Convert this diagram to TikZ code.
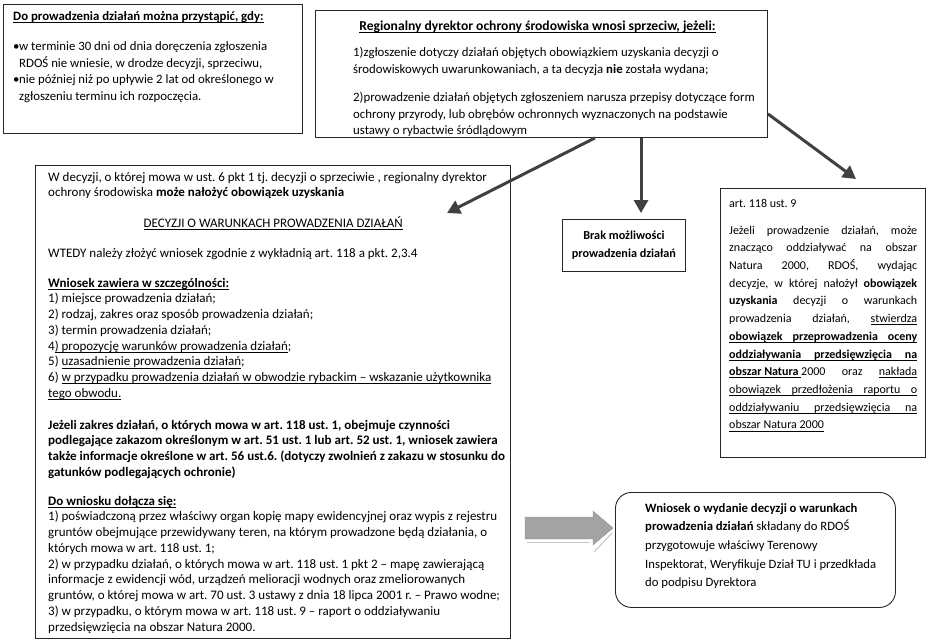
\documentclass[tikz,border=0pt]{standalone}
\usepackage{fontspec}
\setmainfont{Carlito}
\usetikzlibrary{arrows.meta,calc,positioning}
\newsavebox{\undlbox}
\newcommand{\undl}[1]{\sbox{\undlbox}{#1}\rlap{\rule[-2.4pt]{\wd\undlbox}{0.7pt}}\usebox{\undlbox}}

\begin{document}
\frenchspacing
\begin{tikzpicture}[x=1pt,y=-1pt,>={Triangle[length=13pt,width=14pt]},
    box/.style={draw=black!85, line width=0.9pt, anchor=north west, inner sep=0pt},
    txt/.style={anchor=north west, inner sep=0pt, align=left},
    link/.style={->, line width=3pt, draw=black!75}]
    \useasboundingbox (0,0) rectangle (931,643);

    % Frames
    \node[box, minimum width=299pt, minimum height=129pt] (start) at (3,4) {};
    \node[box, minimum width=452pt, minimum height=127pt] (reg) at (315,10) {};
    \node[box, minimum width=475pt, minimum height=473pt] (dec) at (35,165) {};
    \node[box, minimum width=123pt, minimum height=52pt] (brak) at (562,219) {};
    \node[box, minimum width=205pt, minimum height=269pt] (n2k) at (720,188) {};
    \node[box, rounded corners=16pt, minimum width=280pt, minimum height=115pt] (wn) at (615,492) {};

    % Top left
    \node[txt, font=\fontsize{12.8}{16.9}\selectfont] (starttxt) at ($(start.north west)+(10,7)$)
        {\textbf{\undl{Do prowadzenia działań można przystąpić, gdy:}}\\[13pt]
         \makebox[6pt][l]{•}w terminie 30 dni od dnia doręczenia zgłoszenia\\
         \hspace*{6pt}RDOŚ nie wniesie, w drodze decyzji, sprzeciwu,\\
         \makebox[6pt][l]{•}nie później niż po upływie 2 lat od określonego w\\
         \hspace*{6pt}zgłoszeniu terminu ich rozpoczęcia.};

    % Top centre
    \node[txt, font=\fontsize{13.6}{16.5}\selectfont] (regtitle) at ($(reg.north)+(-4,11)$)
        [anchor=north] {\textbf{\undl{Regionalny dyrektor ochrony środowiska wnosi sprzeciw, jeżeli:}}};
    \node[txt, font=\fontsize{12.8}{16.5}\selectfont] (regtxt) at ($(reg.north west)+(38,37)$)
        {1)zgłoszenie dotyczy działań objętych obowiązkiem uzyskania decyzji o\\
         środowiskowych uwarunkowaniach, a ta decyzja \textbf{nie} została wydana;\\[12pt]
         2)prowadzenie działań objętych zgłoszeniem narusza przepisy dotyczące form\\
         ochrony przyrody, lub obrębów ochronnych wyznaczonych na podstawie\\
         ustawy o rybactwie śródlądowym};

    % Left
    \node[txt, font=\fontsize{13}{15.75}\selectfont] (dectxt) at ($(dec.north west)+(13,7)$)
        {W decyzji, o której mowa w ust. 6 pkt 1 tj. decyzji o sprzeciwie , regionalny dyrektor\\
         ochrony środowiska \textbf{może nałożyć obowiązek uzyskania}\\[15pt]
         \makebox[450pt]{\undl{DECYZJI O WARUNKACH PROWADZENIA DZIAŁAŃ}}\\[14pt]
         WTEDY należy złożyć wniosek zgodnie z wykładnią art. 118 a pkt. 2,3.4\\[14pt]
         \textbf{\undl{Wniosek zawiera w szczególności:}}\\
         1) miejsce prowadzenia działań;\\
         2) rodzaj, zakres oraz sposób prowadzenia działań;\\
         3) termin prowadzenia działań;\\
         4\undl{) propozycję warunków prowadzenia działań};\\
         5) \undl{uzasadnienie prowadzenia działań};\\
         6) \undl{w przypadku prowadzenia działań w obwodzie rybackim – wskazanie użytkownika}\\
         \undl{tego obwodu.}\\[16pt]
         \textbf{Jeżeli zakres działań, o których mowa w art. 118 ust. 1, obejmuje czynności}\\
         \textbf{podlegające zakazom określonym w art. 51 ust. 1 lub art. 52 ust. 1, wniosek zawiera}\\
         \textbf{także informacje określone w art. 56 ust.6. (dotyczy zwolnień z zakazu w stosunku do}\\
         \textbf{gatunków podlegających ochronie)}\\[13pt]
         \textbf{\undl{Do wniosku dołącza się:}}\\
         1) poświadczoną przez właściwy organ kopię mapy ewidencyjnej oraz wypis z rejestru\\
         gruntów obejmujące przewidywany teren, na którym prowadzone będą działania, o\\
         których mowa w art. 118 ust. 1;\\
         2) w przypadku działań, o których mowa w art. 118 ust. 1 pkt 2 – mapę zawierającą\\
         informacje z ewidencji wód, urządzeń melioracji wodnych oraz zmeliorowanych\\
         gruntów, o której mowa w art. 70 ust. 3 ustawy z dnia 18 lipca 2001 r. – Prawo wodne;\\
         3) w przypadku, o którym mowa w art. 118 ust. 9 – raport o oddziaływaniu\\
         przedsięwzięcia na obszar Natura 2000.};

    % Middle
    \node[align=center, inner sep=0pt, font=\fontsize{12.2}{18}\selectfont\bfseries] (braktxt) at (brak.center)
        {Brak możliwości\\prowadzenia działań};

    % Right
    \node[txt, font=\fontsize{12}{17.7}\selectfont] (n2ktxt) at ($(n2k.north west)+(9,11)$)
        {art. 118 ust. 9\\[9pt]
         \makebox[188pt][s]{Jeżeli prowadzenie działań, może}\\
         \makebox[188pt][s]{znacząco oddziaływać na obszar}\\
         \makebox[188pt][s]{Natura 2000, RDOŚ, wydając}\\
         \makebox[188pt][s]{decyzje, w której nałożył \textbf{obowiązek}}\\
         \makebox[188pt][s]{\textbf{uzyskania} decyzji o warunkach}\\
         \makebox[188pt][s]{prowadzenia działań, \undl{stwierdza}}\\
         \undl{\makebox[188pt][s]{\bfseries obowiązek przeprowadzenia oceny}}\\
         \undl{\makebox[188pt][s]{\bfseries oddziaływania przedsięwzięcia na}}\\
         \hbox to 188pt{\undl{\textbf{obszar\ Natura\ }}2000\hfill oraz\hfill\undl{nakłada}}\\
         \undl{\makebox[188pt][s]{obowiązek przedłożenia raportu o}}\\
         \undl{\makebox[188pt][s]{oddziaływaniu przedsięwzięcia na}}\\
         \undl{obszar Natura 2000}};

    % Bottom right
    \node[txt, font=\fontsize{12.7}{18.7}\selectfont] (wntxt) at ($(wn.north west)+(30,11)$)
        {\textbf{Wniosek o wydanie decyzji o warunkach}\\
         \textbf{prowadzenia działań} składany do RDOŚ\\
         przygotowuje właściwy Terenowy\\
         Inspektorat, Weryfikuje Dział TU i przedkłada\\
         do podpisu Dyrektora};

    % Block arrow
    \draw[gray!45, line width=1pt] (527,542) -- (590,542);
    \draw[gray!45, line width=1pt] (594,552) -- (612,533);
    \draw[fill=gray!72, draw=gray!82] (525,517) -- (593,517) -- (593,511) -- (613,528)
        -- (593,545) -- (593,539) -- (525,539) -- cycle;

    % Arrows
    \coordinate (t1) at ($(dec.north west)+(412,48)$);
    \coordinate (t3) at ($(n2k.north west)+(136,-9)$);
    \draw[link] ($(reg.south west)+(280,0)$) -- (t1);
    \draw[link] ($(reg.south west)+(326,0)$) -- ($(brak.north west)+(79,-6)$);
    \draw[link] ($(reg.south east)+(0,-24)$) -- (t3);
\end{tikzpicture}
\end{document}
